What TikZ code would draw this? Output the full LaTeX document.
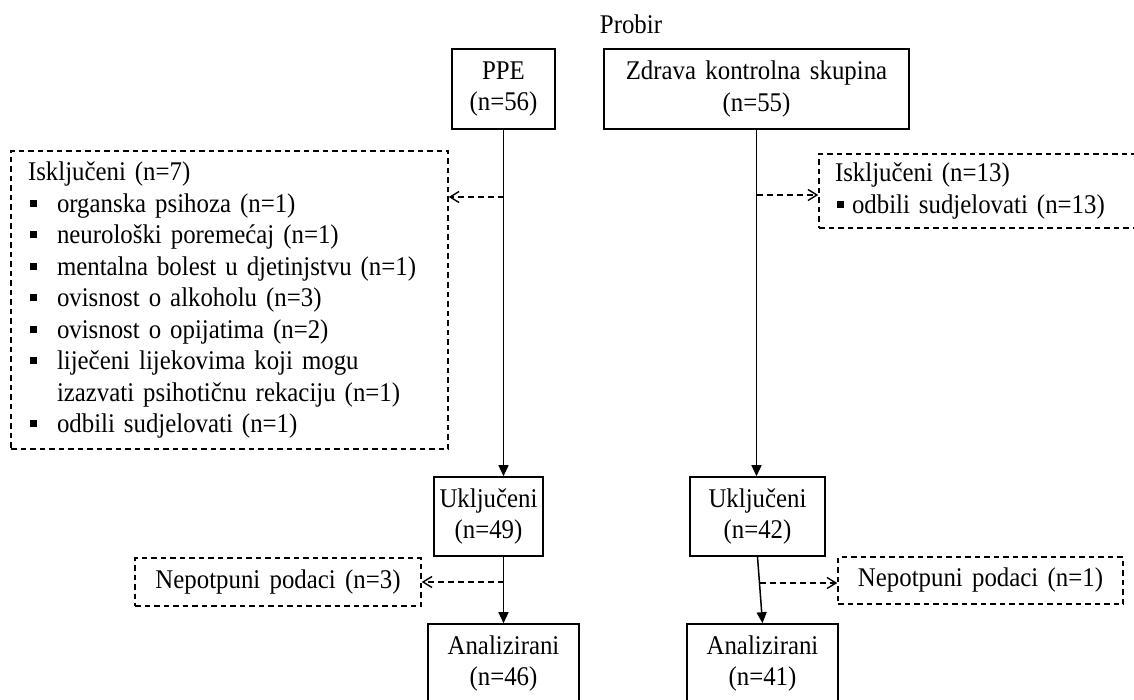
\documentclass[tikz,border=0pt]{standalone}
\usepackage{fontspec}
\setmainfont[WordSpace=1.5, FakeStretch=0.92]{Liberation Serif}
\usetikzlibrary{arrows.meta}
\newcommand{\bulL}{\makebox[29pt][l]{\hspace*{2pt}\raisebox{5.5pt}{\rule{7pt}{7pt}}}}
\newcommand{\bulR}{\makebox[17pt][l]{\hspace*{2pt}\raisebox{5.5pt}{\rule{7pt}{7pt}}}}
\begin{document}
\begin{tikzpicture}[x=1pt,y=-1pt,
  font=\fontsize{27}{31.5}\selectfont,
  box/.style={draw, line width=1.6pt, inner sep=0pt, align=center},
  dbox/.style={draw, line width=1.4pt, dash pattern=on 5.5pt off 4pt, inner sep=0pt},
  arr/.style={line width=1.5pt, -{Triangle[length=11pt,width=10pt]}},
  darr/.style={line width=1.4pt, dash pattern=on 6pt off 4pt, -{Straight Barb[length=9pt,width=11pt]}}]
\useasboundingbox (0,0) rectangle (1134,700);

\node (probir) at (631,24.5) {Probir};

\node[box, minimum width=103pt, minimum height=80pt] (ppe) at (503.5,89) {PPE\\(n=56)};
\node[box, minimum width=305pt, minimum height=80pt] (zdr) at (756.5,89) {Zdrava kontrolna skupina\\(n=55)};

\node[dbox, minimum width=437pt, minimum height=298pt, text width=403pt, inner xsep=17pt, align=left] (exc1) at (229.5,300)
 {\mbox{Isključeni (n=7)}\\
  \mbox{\bulL organska psihoza (n=1)}\\
  \mbox{\bulL neurološki poremećaj (n=1)}\\
  \mbox{\bulL mentalna bolest u djetinjstvu (n=1)}\\
  \mbox{\bulL ovisnost o alkoholu (n=3)}\\
  \mbox{\bulL ovisnost o opijatima (n=2)}\\
  \mbox{\bulL liječeni lijekovima koji mogu}\\
  \mbox{\hspace*{29pt}izazvati psihotičnu rekaciju (n=1)}\\
  \mbox{\bulL odbili sudjelovati (n=1)}};

\node[dbox, minimum width=326pt, minimum height=74pt, text width=294pt, inner xsep=16pt, align=left] (exc2) at (982,191)
 {\mbox{Isključeni (n=13)}\\
  \mbox{\bulR odbili sudjelovati (n=13)}};

\node[box, minimum width=109pt, minimum height=79pt] (ukl1) at (488.5,516.5) {Uključeni\\(n=49)};
\node[box, minimum width=135pt, minimum height=79pt] (ukl2) at (757.5,516.5) {Uključeni\\(n=42)};

\node[dbox, minimum width=286pt, minimum height=48pt] (nep1) at (278,582) {Nepotpuni podaci (n=3)};
\node[dbox, minimum width=285pt, minimum height=47pt] (nep2) at (980.5,580.5) {Nepotpuni podaci (n=1)};

\node[box, minimum width=151pt, minimum height=79pt] (ana1) at (503.5,663.5) {Analizirani\\(n=46)};
\node[box, minimum width=151pt, minimum height=79pt] (ana2) at (762.5,663.5) {Analizirani\\(n=41)};

% main flow
\draw[arr] (ppe.south) -- (ukl1.north -| ppe.south);
\draw[arr] (zdr.south) -- (ukl2.north -| zdr.south);
\draw[arr] (ukl1.south -| ana1.north) -- (ana1.north);
\draw[arr] (ukl2.south) -- (ana2.north);

% exclusions
\coordinate (b1) at (503.5,197);
\coordinate (b2) at (756.5,195);
\coordinate (b3) at (503.5,582);
\coordinate (b4) at (759.5,583);
\draw[darr] (b1) -- (b1 -| exc1.east);
\draw[darr] (b2) -- (b2 -| exc2.west);
\draw[darr] (b3) -- (nep1.east);
\draw[darr] (b4) -- (b4 -| nep2.west);
\end{tikzpicture}
\end{document}
